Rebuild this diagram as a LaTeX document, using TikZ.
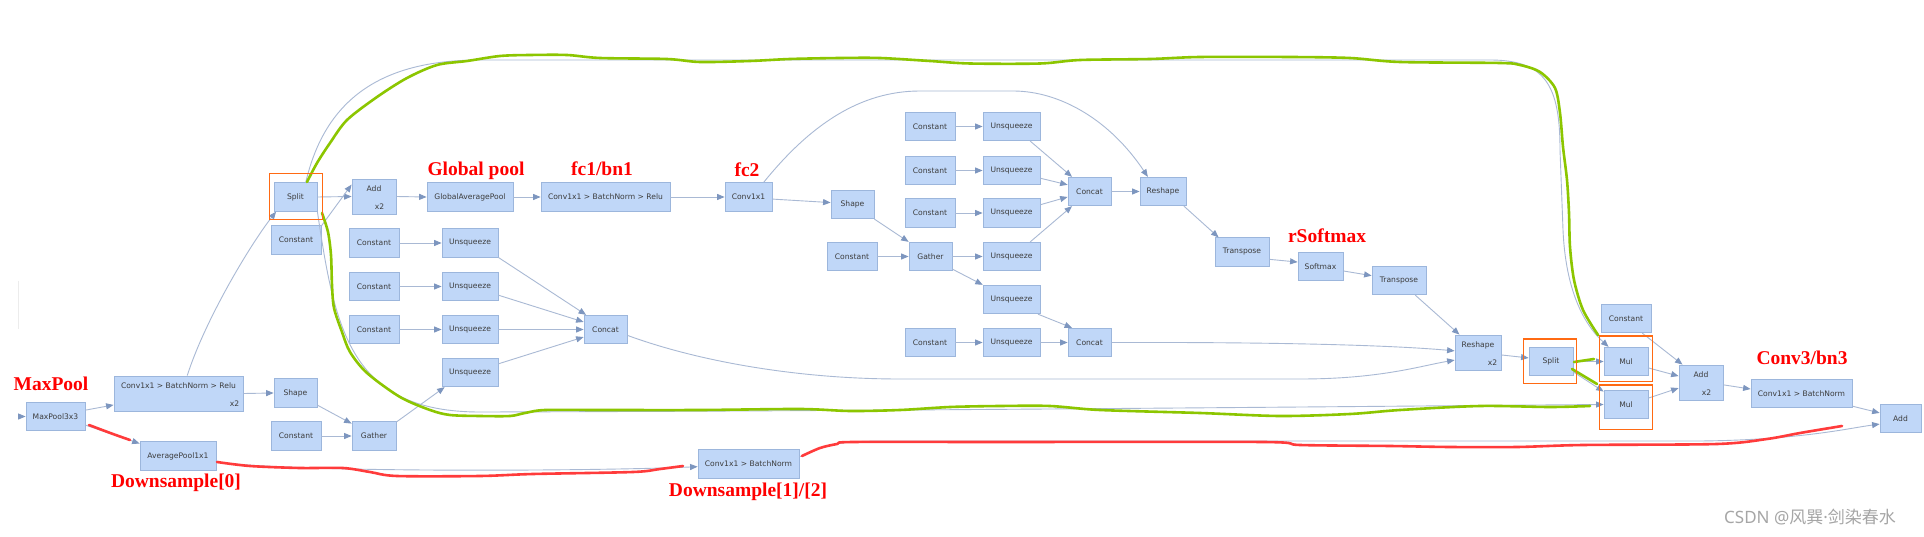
\documentclass[tikz,border=0pt]{standalone}
\usepackage{fontspec}
\usepackage{tikz}
\usetikzlibrary{arrows.meta}
\newfontfamily\netronfont{DejaVu Sans}
\newfontfamily\notefont{Liberation Serif}
\newfontfamily\cjkfont{Noto Sans CJK SC}
\newfontfamily\wmlatin{Noto Sans}
\definecolor{boxfill}{HTML}{C0D7F8}
\definecolor{boxline}{HTML}{9CB6DC}
\definecolor{nodetext}{HTML}{3C3C3C}
\definecolor{wireline}{HTML}{A9B9D4}
\definecolor{wiretip}{HTML}{7D96BF}
\definecolor{markgreen}{HTML}{8CC600}
\definecolor{markred}{HTML}{FF3B3B}
\definecolor{markorange}{HTML}{FF6A13}
\definecolor{notered}{HTML}{FF0000}

\begin{document}
\begin{tikzpicture}[x=1pt, y=-1pt,
  op/.style={rectangle, draw=boxline, fill=boxfill, line width=0.8pt,
             minimum height=28.5, inner sep=0pt, text=nodetext,
             font=\netronfont\fontsize{7.6}{9}\selectfont},
  optxt/.style={inner sep=0pt, text=nodetext, font=\netronfont\fontsize{7.6}{9}\selectfont},
  toptxt/.style={label={[optxt, anchor=base, yshift=-13pt]north:#1}},
  xtwo/.style={label={[optxt, anchor=base east, xshift=-#1, yshift=5pt]south east:x2}},
  wire/.style={draw=wireline, line width=0.9pt, -{Triangle[length=7.5pt, width=6pt, color=wiretip]}},
  note/.style={inner sep=0pt, text=notered, font=\notefont\fontsize{19.5}{22}\selectfont\bfseries},
  hlgreen/.style={draw=markgreen, line width=2.6pt, line cap=round, line join=round},
  hlred/.style={draw=markred, line width=2.6pt, line cap=round, line join=round},
  focus/.style={draw=markorange, line width=1.3pt},
]
\fill[white] (0,0) rectangle (1924,537);
\useasboundingbox (0,0) rectangle (1924,537);

\draw[gray!15, line width=0.8pt] (18,281) -- (18,329);
\coordinate (inpt) at (18,416.5);

\node[op, minimum width=59] (mp) at (55.5,416.5) {MaxPool3x3};
\node[op, minimum width=129, minimum height=35, toptxt={Conv1x1 > BatchNorm > Relu}, xtwo=4pt] (cbr) at (178.5,393.5) {};
\node[op, minimum width=76] (ap) at (178,456) {AveragePool1x1};
\node[op, minimum width=43] (sp1) at (295.5,197) {Split};
\node[op, minimum width=50] (c1) at (296,240) {Constant};
\node[op, minimum width=44, minimum height=35, toptxt=Add, xtwo=12pt] (add1) at (374,196.5) {};
\node[op, minimum width=86] (gap) at (470,197) {GlobalAveragePool};
\node[op, minimum width=129] (fc1) at (605.5,197) {Conv1x1 > BatchNorm > Relu};
\node[op, minimum width=43] (sh1) at (295.5,393) {Shape};
\node[op, minimum width=50] (c2) at (296,436) {Constant};
\node[op, minimum width=44] (ga1) at (374,436) {Gather};
\node[op, minimum width=50] (c3) at (374,243) {Constant};
\node[op, minimum width=50] (c4) at (374,286.5) {Constant};
\node[op, minimum width=50] (c5) at (374,329.5) {Constant};
\node[op, minimum width=56] (u1) at (470,243) {Unsqueeze};
\node[op, minimum width=56] (u2) at (470,286.5) {Unsqueeze};
\node[op, minimum width=56] (u3) at (470,329.5) {Unsqueeze};
\node[op, minimum width=56] (u4) at (470,372.5) {Unsqueeze};
\node[op, minimum width=43] (cc1) at (605.5,329.5) {Concat};

\node[op, minimum width=47] (fc2) at (748.5,197) {Conv1x1};
\node[op, minimum width=43] (sh2) at (852.5,204.5) {Shape};
\node[op, minimum width=50] (c6) at (852,256.5) {Constant};
\node[op, minimum width=43] (ga2) at (930.5,256.5) {Gather};
\node[op, minimum width=50] (c7) at (930,126.5) {Constant};
\node[op, minimum width=50] (c8) at (930,170.5) {Constant};
\node[op, minimum width=50] (c9) at (930,213) {Constant};
\node[op, minimum width=50] (c10) at (930,342.5) {Constant};
\node[op, minimum width=57] (u5) at (1011.5,126.5) {Unsqueeze};
\node[op, minimum width=57] (u6) at (1011.5,170.5) {Unsqueeze};
\node[op, minimum width=57] (u7) at (1011.5,213) {Unsqueeze};
\node[op, minimum width=57] (u8) at (1011.5,256.5) {Unsqueeze};
\node[op, minimum width=57] (u9) at (1011.5,299.5) {Unsqueeze};
\node[op, minimum width=57] (u10) at (1011.5,342.5) {Unsqueeze};
\node[op, minimum width=43] (cc2) at (1089.5,191.5) {Concat};
\node[op, minimum width=43] (cc3) at (1089.5,342.5) {Concat};
\node[op, minimum width=46] (rs1) at (1163,191.5) {Reshape};
\node[op, minimum width=54] (tr1) at (1242,252) {Transpose};
\node[op, minimum width=45] (smx) at (1320.5,266.5) {Softmax};
\node[op, minimum width=54] (tr2) at (1399,280.5) {Transpose};
\node[op, minimum width=46, minimum height=35, toptxt=Reshape, xtwo=4pt] (rs2) at (1478,352.5) {};
\node[op, minimum width=44] (sp2) at (1551,361.5) {Split};
\node[op, minimum width=44] (mul1) at (1626,361.5) {Mul};
\node[op, minimum width=44] (mul2) at (1626,404.5) {Mul};
\node[op, minimum width=50] (c11) at (1626,318.5) {Constant};
\node[op, minimum width=44, minimum height=35, toptxt=Add, xtwo=12pt] (add2) at (1701,382.5) {};
\node[op, minimum width=101] (cb3) at (1801.5,393.5) {Conv1x1 > BatchNorm};
\node[op, minimum width=41] (add3) at (1900.5,418.5) {Add};
\node[op, minimum width=101] (cbd) at (748.5,464) {Conv1x1 > BatchNorm};

\draw[wire] (inpt) -- (mp.west);
\draw[wire] (mp.12) -- (cbr.190);
\draw[wire] (mp.-16) -- (ap.162);
\draw[wire] (cbr.64) .. controls (205,320) and (250,245) .. (sp1.-143);
\draw[wire] (cbr.east) -- (sh1.west);
\draw[wire] (sh1.-29) -- (ga1.151);
\draw[wire] (c2.east) -- (ga1.west);
\draw[wire] (ga1.32) -- (u4.210);
\draw[wire] (c3.east) -- (u1.west);
\draw[wire] (c4.east) -- (u2.west);
\draw[wire] (c5.east) -- (u3.west);
\draw[wire] (u1.-27) -- (cc1.143);
\draw[wire] (u2.-17) -- (cc1.161);
\draw[wire] (u3.east) -- (cc1.west);
\draw[wire] (u4.17) -- (cc1.199);
\draw[wire] (sp1.east) -- (add1.west);
\draw[wire] (c1.29) -- (add1.152);
\draw[wire] (add1.east) -- (gap.west);
\draw[wire] (gap.east) -- (fc1.west);
\draw[wire] (fc1.east) -- (fc2.west);
\draw[wire] (fc2.-5) -- (sh2.175);
\draw[wire] (fc2.44) .. controls (810,125) and (860,91) .. (920,91) -- (1013,91)
  .. controls (1060,91) and (1110,120) .. (rs1.136);
\draw[wire] (sh2.south east) -- (ga2.north west);
\draw[wire] (c6.east) -- (ga2.west);
\draw[wire] (ga2.east) -- (u8.west);
\draw[wire] (ga2.-30) -- (u9.153);
\draw[wire] (c7.east) -- (u5.west);
\draw[wire] (c8.east) -- (u6.west);
\draw[wire] (c9.east) -- (u7.west);
\draw[wire] (c10.east) -- (u10.west);
\draw[wire] (u5.-38) -- (cc2.140);
\draw[wire] (u6.-15) -- (cc2.163);
\draw[wire] (u7.16) -- (cc2.194);
\draw[wire] (u8.38) -- (cc2.220);
\draw[wire] (u9.-29) -- (cc3.140);
\draw[wire] (u10.east) -- (cc3.west);
\draw[wire] (cc2.east) -- (rs1.west);
\draw[wire] (rs1.-35) -- (tr1.148);
\draw[wire] (tr1.-15) -- (smx.169);
\draw[wire] (smx.-11) -- (tr2.170);
\draw[wire] (tr2.-42) -- (rs2.136);
\draw[wire] (cc3.east) .. controls (1300,342) and (1400,346) .. (rs2.176);
\draw[wire] (cc1.-15) .. controls (700,362) and (800,379) .. (900,379) -- (1300,379)
  .. controls (1380,379) and (1420,366) .. (rs2.198);
\draw[wire] (rs2.-6) -- (sp2.171);
\draw[wire] (sp2.east) -- (mul1.west);
\draw[wire] (sp2.-25) -- (mul2.150);
\draw[wire] (sp1.55) .. controls (325,100) and (380,60) .. (480,60) -- (1490,60)
  .. controls (1545,60) and (1560,85) .. (1560,150) -- (1563,230)
  .. controls (1566,300) and (1590,330) .. (mul1.140);
\draw[wire] (sp1.south east) .. controls (335,330) and (350,412) .. (480,412)
  .. controls (900,411) and (1400,406) .. (mul2.west);
\draw[wire] (c11.-42) -- (add2.136);
\draw[wire] (mul1.-16) -- (add2.164);
\draw[wire] (mul2.16) -- (add2.194);
\draw[wire] (add2.-6) -- (cb3.175);
\draw[wire] (cb3.-14) -- (add3.165);
\draw[wire] (ap.-9) .. controls (300,473) and (600,471) .. (cbd.183);
\draw[wire] (cbd.8) .. controls (830,441) and (850,441) .. (900,441) -- (1700,441)
  .. controls (1800,440) and (1850,428) .. (add3.195);

\draw[hlgreen] plot[smooth] coordinates {(307,182) (317,163) (330,143) (347,120) (377,97)
  (407,78) (437,65) (467,61) (500,56) (530,55) (567,55) (600,58) (667,59) (700,62)
  (750,61) (790,59) (840,58) (880,58) (930,61) (970,63.5) (1040,63.5) (1080,60)
  (1150,59) (1200,57) (1290,57) (1350,58) (1400,62) (1500,63) (1520,65) (1540,72)
  (1555,88) (1560,113) (1563,147) (1567,180) (1569,213) (1570,247) (1574,280)
  (1583,310) (1598,335)};
\draw[hlgreen] plot[smooth] coordinates {(322,213) (328,232) (331,255) (332,285) (334,308)
  (342,332) (350,352) (367,373) (400,397) (430,410) (450,415) (480,416) (510,416)
  (525,413) (545,410) (600,410) (700,410) (800,409) (850,411) (900,410) (950,407)
  (1000,406) (1050,406) (1100,410) (1200,413) (1280,416) (1350,414) (1400,410)
  (1480,406) (1550,407) (1590,406)};
\draw[hlgreen] (1574,362) -- (1594,359);
\draw[hlgreen] (1572,369) -- (1597,384);
\draw[hlred] plot[smooth] coordinates {(89,425) (113,434) (130,440)};
\draw[hlred] plot[smooth] coordinates {(217,462) (250,466) (300,468) (343,468) (370,472)
  (397,476) (480,476) (533,474) (633,472) (660,469) (683,466)};
\draw[hlred] plot[smooth] coordinates {(802,456) (820,448) (837,444) (853,442) (1000,442)
  (1263,442) (1300,445) (1390,446) (1450,447) (1517,447) (1583,445) (1717,444)
  (1767,439) (1800,433) (1842,426)};

\draw[focus] ([shift={(-4,-9)}]sp1.north west) rectangle ([shift={(5,8)}]sp1.south east);
\draw[focus] ([shift={(-5,-8)}]sp2.north west) rectangle ([shift={(3,7)}]sp2.south east);
\draw[focus] ([shift={(-4,-11)}]mul1.north west) rectangle ([shift={(4,5)}]mul1.south east);
\draw[focus] ([shift={(-4,-5)}]mul2.north west) rectangle ([shift={(4,10)}]mul2.south east);

\node[note, anchor=base] (nmp) at (51,390) {MaxPool};
\node[note, anchor=base] (ngp) at (476,176) {Global pool};
\node[note, anchor=base] (nfc1) at (602,176) {fc1/bn1};
\node[note, anchor=base] (nfc2) at (747,177) {fc2};
\node[note, anchor=base] (nrs) at (1327,243) {rSoftmax};
\node[note, anchor=base] (ncb3) at (1802,364) {Conv3/bn3};
\node[note, anchor=base] (nds0) at (176,487) {Downsample[0]};
\node[note, anchor=base] (nds1) at (748,496) {Downsample[1]/[2]};

\node[font=\cjkfont\fontsize{17}{20}\selectfont, text=gray!70, inner sep=0pt] (wm) at (1810,517)
  {{\wmlatin CSDN @}风巽{\wmlatin ·}剑染春水};

\end{tikzpicture}
\end{document}
